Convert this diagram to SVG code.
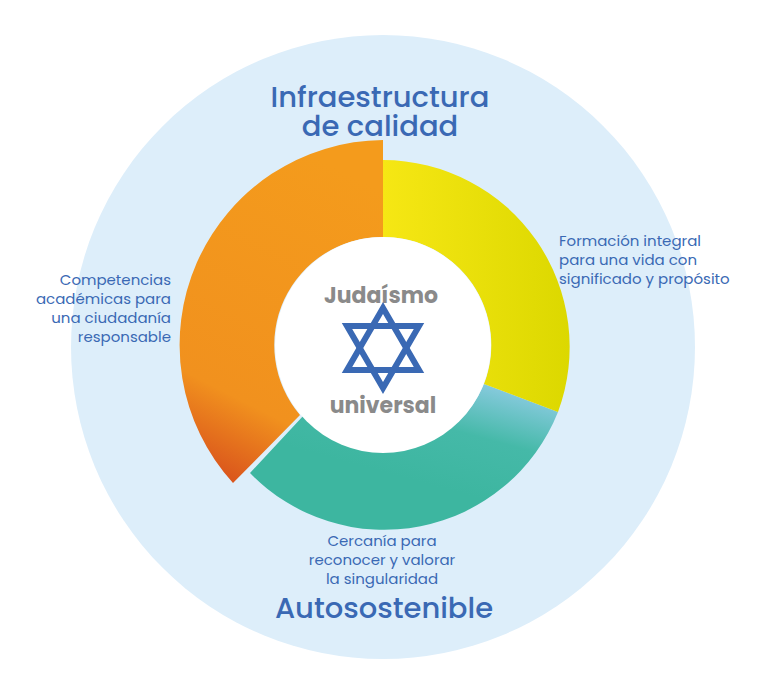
<svg xmlns="http://www.w3.org/2000/svg" width="765" height="673" viewBox="0 0 765 673">
<defs>
<style>
.t{font-family:Poppins,"Noto Sans","Liberation Sans",sans-serif;fill:#3a69b4}
.big{font-size:29px;font-weight:500}
.lab{font-size:15px}
.c{font-family:Poppins,"Noto Sans","Liberation Sans",sans-serif;fill:#8a8a8a;font-size:22px;font-weight:bold;text-anchor:middle}
</style>
<linearGradient id="gy" x1="0" y1="0" x2="1" y2="0"><stop offset="0" stop-color="#f6e714"/><stop offset="1" stop-color="#dcd800"/></linearGradient>
<linearGradient id="gt" x1="1" y1="0" x2="0.6" y2="0.7"><stop offset="0" stop-color="#9ed0f0"/><stop offset="0.55" stop-color="#45b9a8"/><stop offset="1" stop-color="#3db6a0"/></linearGradient>
<linearGradient id="go" x1="0.5" y1="0" x2="0.2" y2="1"><stop offset="0" stop-color="#f49b1c"/><stop offset="0.75" stop-color="#f1911e"/><stop offset="1" stop-color="#d8501c"/></linearGradient>
</defs>
<circle cx="383" cy="347" r="312" fill="#ddeefa"/>
<g id="teal"><path d="M558,412 A187,187 0 0 1 250,473 L304,415 A108,108 0 0 0 484,384 Z" fill="url(#gt)"/></g>
<g id="yellow"><path d="M383,160 A187,187 0 0 1 558,412 L484,384 A108,108 0 0 0 383,237 Z" fill="url(#gy)"/></g>
<g id="orange"><path d="M383,140 L383,237 A108,108 0 0 0 300,415 L233,483 A205,205 0 0 1 383,140 Z" fill="url(#go)"/></g>
<g id="center">
<circle cx="383" cy="345" r="108" fill="#fff"/>
<text class="c" x="381" y="303">Judaísmo</text>
<text class="c" x="383" y="413">universal</text>
<g fill="none" stroke="#3a69b4" stroke-width="6" stroke-linejoin="miter">
<polygon points="383,308 347,370 419,370"/>
<polygon points="383,388 347,326 419,326"/>
</g>
</g>
<g id="labels">
<text class="t big" x="380" y="107" text-anchor="middle">Infraestructura</text>
<text class="t big" x="380" y="136" text-anchor="middle">de calidad</text>
<text class="t big" x="384" y="618" text-anchor="middle">Autosostenible</text>
<text class="t lab" x="559" y="246">Formación integral</text>
<text class="t lab" x="559" y="265">para una vida con</text>
<text class="t lab" x="559" y="284">significado y propósito</text>
<text class="t lab" x="171" y="285" text-anchor="end">Competencias</text>
<text class="t lab" x="171" y="304" text-anchor="end">académicas para</text>
<text class="t lab" x="171" y="323" text-anchor="end">una ciudadanía</text>
<text class="t lab" x="171" y="342" text-anchor="end">responsable</text>
<text class="t lab" x="382" y="546" text-anchor="middle">Cercanía para</text>
<text class="t lab" x="382" y="565" text-anchor="middle">reconocer y valorar</text>
<text class="t lab" x="382" y="584" text-anchor="middle">la singularidad</text>
</g>
</svg>
